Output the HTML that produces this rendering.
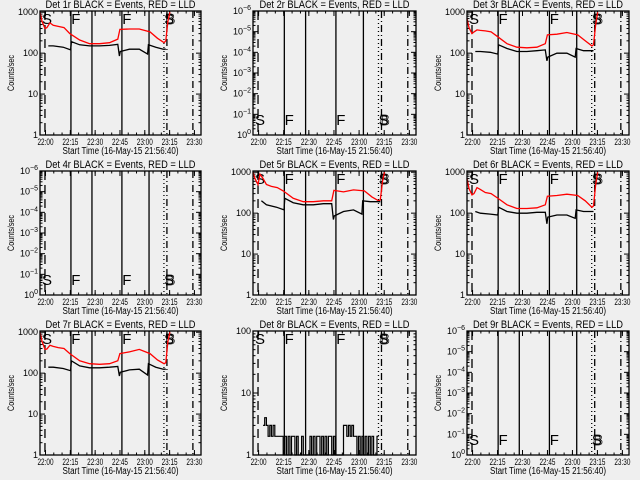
<!DOCTYPE html>
<html><head><meta charset="utf-8"><style>
html,body{margin:0;padding:0;background:#efefef;}
svg{display:block;font-family:"Liberation Sans",sans-serif;}
</style></head><body>
<svg id="c" width="640" height="480" viewBox="0 0 640 480">
<rect width="640" height="480" fill="#efefef"/>
</svg>
<script>
// ---- data (time in minutes after 21:56:40) ----
const panelTitles = ["Det 1r","Det 2r","Det 3r","Det 4r","Det 5r","Det 6r","Det 7r","Det 8r","Det 9r"];
const xTickLabels = ["22:00","22:15","22:30","22:45","23:00","23:15","23:30"];
const xTickTimes = [3.33,18.33,33.33,48.33,63.33,78.33,93.33];
const redTimes = [0,1.2,3,4.2,6,8,11,14.5,18,24,30,36,42,47,48.3,54,60,66.5,71,75,76,77.3,78.5];
const blackTimes = [5,8,14,18.5,19,24,30,36,42,47,48,48.5,54,60,65,65.5,70,74.5,76];
const red1 = [1000,600,400,420,550,480,450,420,300,210,170,170,180,220,380,390,390,330,230,180,200,600,1000];
const black1 = [150,150,140,120,190,160,150,150,155,165,85,110,125,125,95,160,140,125,125];
const red3 = [700,420,300,330,370,360,350,330,260,170,140,135,140,170,280,290,320,280,200,150,160,500,1000];
const black3 = [110,110,105,95,160,130,110,110,115,120,65,80,100,100,80,130,115,115,115];
const red5 = [1000,700,500,900,700,500,450,420,350,230,190,190,200,200,360,330,370,350,250,200,210,600,1000];
const black5 = [200,160,140,120,230,180,160,160,170,170,70,85,110,120,95,200,190,190,190];
const red6 = [700,400,280,300,420,380,320,300,240,160,130,130,135,160,260,270,290,270,200,140,150,500,1000];
const black6 = [110,100,95,90,140,110,100,100,105,105,55,80,90,90,75,120,110,110,110];
const red7 = [1000,600,380,390,480,450,420,400,300,200,170,165,170,200,300,330,380,300,210,170,180,600,1000];
const black7 = [140,140,130,115,200,150,135,135,140,145,85,105,120,125,90,170,140,125,125];
const black8Start = 6;
const black8 = [3,4,3,2,3,2,3,2,2,2,2,2, 1,2,1,2,1,2, 2,1,2,1,1,2, 1,1,1,1,2,1, 2,1,2,2,1,2, 1,2,1,2,2,1, 2,1,1,1,1,1, 3,3,2,3,2,3, 2,2,1,2,1,2, 1,2,1,2,1,2,1,1,2];
const markerTimes = [3,18.7,31.4,49.5,65.9,74.9,76.7,92.4];
const markerStyles = ["dash","solid","solid","solid","solid","dot","dashdot","dashdot"];
const letterTimes = [1.2,18.9,49.7,75];
const letterTexts = ["S","F","F","S"];

const colLeft=[40,253,467], colW=[161,163,162], rowTop=[11,171,331], H=124, SPAN=97.3;
const svg=document.getElementById('c');
const NS="http://www.w3.org/2000/svg";
function mk(tag,attrs,parent){const e=document.createElementNS(NS,tag);for(const k in attrs)e.setAttribute(k,attrs[k]);(parent||svg).appendChild(e);return e;}

const panels=[
 {type:"hi",red:red1,black:black1,lt:"top"},
 {type:"lo",lt:"bot"},
 {type:"hi",red:red3,black:black3,lt:"top"},
 {type:"lo",lt:"bot"},
 {type:"hi",red:red5,black:black5,lt:"top"},
 {type:"hi",red:red6,black:black6,lt:"top"},
 {type:"hi",red:red7,black:black7,lt:"top"},
 {type:"mid",lt:"top"},
 {type:"lo",lt:"bot"}
];

panels.forEach((p,i)=>{
 const L=colLeft[i%3], W=colW[i%3], T=rowTop[Math.floor(i/3)], B=T+H;
 const g=mk('g',{});
 
 
 const xs=t=>L+t*W/SPAN;
 let lmax = p.type==="hi"?3.03:(p.type==="mid"?2.0:6.0);
 const ys=v=>B-(Math.log10(v))*H/lmax;
 const ysLin=d=>B-d*H/lmax;
 const tt=mk('text',{x:L+W/2,y:T-3,'font-size':11,'text-anchor':'middle',textLength:150,lengthAdjust:'spacingAndGlyphs'},g);
 tt.textContent=panelTitles[i]+" BLACK = Events, RED = LLD";
 
 
 const yt=mk('text',{x:0,y:0,'font-size':9,'text-anchor':'middle',transform:`translate(${L-26},${T+H/2}) rotate(-90)`,textLength:36,lengthAdjust:'spacingAndGlyphs'},g);
 yt.textContent="Counts/sec";
 
 
 const xt=mk('text',{x:L+W/2,y:B+19,'font-size':10,'text-anchor':'middle',textLength:116,lengthAdjust:'spacingAndGlyphs'},g);
 xt.textContent="Start Time (16-May-15 21:56:40)";
 
 
 xTickTimes.forEach((t,k)=>{
  const x=xs(t);
  if(x>L+W) return;
  mk('line',{x1:x,x2:x,y1:B,y2:B-5,stroke:'#000'},g);
  mk('line',{x1:x,x2:x,y1:T,y2:T+5,stroke:'#000'},g);
  const lb=mk('text',{x:x,y:B+10,'font-size':9,'text-anchor':'middle',textLength:16,lengthAdjust:'spacingAndGlyphs'},g);
  lb.textContent=xTickLabels[k];
  
  
 });
 for(let t=3.33-5;t<SPAN;t+=5){const x=xs(t);if(x<L)continue;
  mk('line',{x1:x,x2:x,y1:B,y2:B-2.5,stroke:'#000'},g);mk('line',{x1:x,x2:x,y1:T,y2:T+2.5,stroke:'#000'},g);}
 const decs=Math.floor(lmax);
 for(let d=0;d<=decs;d++){
  const y=ysLin(d);
  mk('line',{x1:L,x2:L+5,y1:y,y2:y,stroke:'#000'},g);
  mk('line',{x1:L+W,x2:L+W-5,y1:y,y2:y,stroke:'#000'},g);
  const lb=mk('text',{x:L-2,y:y+3,'font-size':9,'text-anchor':'end'},g);
  if(p.type==="lo"){lb.innerHTML='10<tspan dy="-4" font-size="7">'+(d===0?'0':'−'+d)+'</tspan>';}
  else lb.textContent=String(Math.pow(10,d));
  
  
  for(let m=2;m<=9;m++){const yy=ysLin(d+Math.log10(m));if(yy<T)break;
   mk('line',{x1:L,x2:L+2.5,y1:yy,y2:yy,stroke:'#000'},g);mk('line',{x1:L+W,x2:L+W-2.5,y1:yy,y2:yy,stroke:'#000'},g);}
 }
 markerTimes.forEach((t,k)=>{
  const x=xs(t);const s=markerStyles[k];
  const a={x1:x,x2:x,y1:T,y2:B,stroke:'#000','stroke-width':1.3};
  if(s==="dash")a['stroke-dasharray']='9 5';
  if(s==="dot")a['stroke-dasharray']='1 3';
  if(s==="dashdot")a['stroke-dasharray']='7 3 1 3';
  const ln=mk('line',a,g);
  
  
 });
 letterTimes.forEach((t,k)=>{
  const by = p.lt==="top"?T+13:B-10;
  const lt=mk('text',{x:xs(t),y:by,'font-size':15,fill:'#000'},g);
  lt.textContent=letterTexts[k];
  
  
  if(k===3){const lb2=mk('text',{x:xs(t)+1,y:by,'font-size':15,fill:'none',stroke:'#000','stroke-width':0.7},g);lb2.textContent="B";
   
   }
 });
 if(p.red){
  const d=redTimes.map((t,k)=>(k?'L':'M')+xs(t).toFixed(1)+','+Math.max(T,ys(p.red[k])).toFixed(1)).join('');
  const r=mk('path',{d:d,fill:'none',stroke:'#ff0000','stroke-width':1.3},g);
  
  
  const d2=blackTimes.map((t,k)=>(k?'L':'M')+xs(t).toFixed(1)+','+ys(p.black[k]).toFixed(1)).join('');
  const b=mk('path',{d:d2,fill:'none',stroke:'#000','stroke-width':1.3},g);
  
  
 }
 if(p.type==="mid"){
  let d='';
  black8.forEach((v,k)=>{const x0=xs(black8Start+k),x1=xs(black8Start+k+1),y=ys(v);
   d+=(k?'L':'M')+x0.toFixed(1)+','+y.toFixed(1)+'L'+x1.toFixed(1)+','+y.toFixed(1);});
  const b=mk('path',{d:d,fill:'none',stroke:'#000','stroke-width':1.2},g);
  
  
 }
 const bx=mk('rect',{x:L,y:T,width:W,height:H,fill:'none',stroke:'#000','stroke-width':1.3},g);
 
 
});
</script>
</body></html>
